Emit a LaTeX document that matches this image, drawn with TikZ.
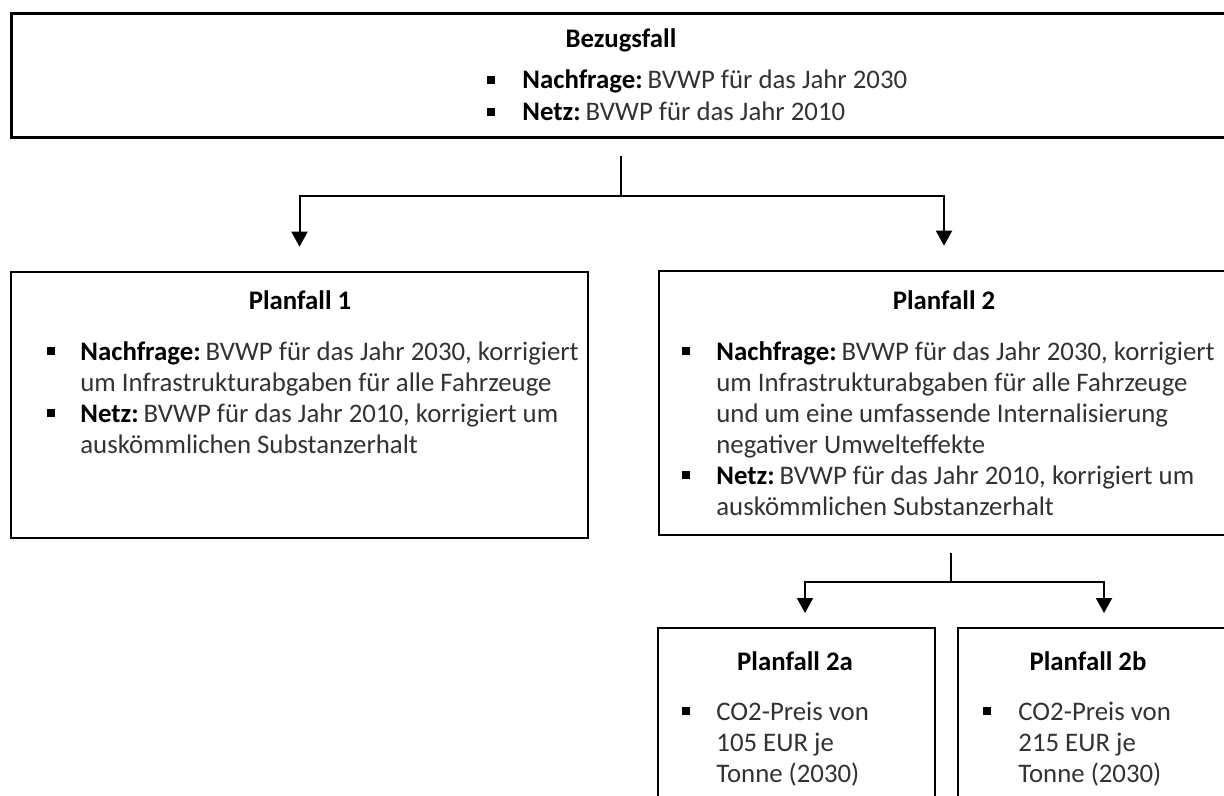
\documentclass[tikz,border=0pt]{standalone}
\usepackage{fontspec}
\setmainfont{Carlito}
\usepackage{xcolor}
\usetikzlibrary{positioning, fit, arrows.meta, calc}

\definecolor{txtgray}{RGB}{50,50,50}
\newcommand{\lead}[1]{\textbf{\color{black}#1}\kern2.5pt}

\begin{document}
\begin{tikzpicture}[
        x=0.5pt, y=-0.5pt,
        box/.style={draw, rectangle, line width=1.3pt, inner sep=0pt},
        ttl/.style={anchor=base, inner sep=0pt, font=\fontsize{13.4}{16}\selectfont\bfseries},
        txt/.style={anchor=base west, inner sep=0pt, font=\fontsize{13.4}{16}\selectfont, text=txtgray},
        blt/.style={fill=black, rectangle, minimum size=3.8pt, inner sep=0pt},
        conn/.style={line width=1pt},
        arrow/.style={-{Triangle[width=8pt, length=7.5pt]}, line width=1pt}
    ]
    \useasboundingbox (0,0) rectangle (1224,796);
    \clip (0,0) rectangle (1224,796);

    % Bezugsfall
    \node[box, line width=1.5pt, fit={(11,14) (1231,138)}] (bezug) {};
    \node[ttl] (bezug-t) at (621,48) {Bezugsfall};
    \node[blt] (bezug-b1) at (491,80) {};
    \node[txt] (bezug-l1) at (522,89) {\lead{Nachfrage:}BVWP für das Jahr 2030};
    \node[blt] (bezug-b2) at (491,112) {};
    \node[txt] (bezug-l2) at (522,121) {\lead{Netz:}BVWP für das Jahr 2010};

    % Planfall 1
    \node[box, fit={(11,272) (588,538)}] (pf1) {};
    \node[ttl] (pf1-t) at (300,310) {Planfall 1};
    \node[blt] (pf1-b1) at (51,351) {};
    \node[txt] (pf1-l1) at (80,360) {\lead{Nachfrage:}BVWP für das Jahr 2030, korrigiert};
    \node[txt] (pf1-l2) at (80,391) {um Infrastrukturabgaben für alle Fahrzeuge};
    \node[blt] (pf1-b2) at (51,413) {};
    \node[txt] (pf1-l3) at (80,422) {\lead{Netz:}BVWP für das Jahr 2010, korrigiert um};
    \node[txt] (pf1-l4) at (80,453) {auskömmlichen Substanzerhalt};

    % Planfall 2
    \node[box, fit={(659,271) (1229,535)}] (pf2) {};
    \node[ttl] (pf2-t) at (944,310) {Planfall 2};
    \node[blt] (pf2-b1) at (686,351) {};
    \node[txt] (pf2-l1) at (716,360) {\lead{Nachfrage:}BVWP für das Jahr 2030, korrigiert};
    \node[txt] (pf2-l2) at (716,391) {um Infrastrukturabgaben für alle Fahrzeuge};
    \node[txt] (pf2-l3) at (716,422) {und um eine umfassende Internalisierung};
    \node[txt] (pf2-l4) at (716,453) {negativer Umwelteffekte};
    \node[blt] (pf2-b2) at (686,475) {};
    \node[txt] (pf2-l5) at (716,484) {\lead{Netz:}BVWP für das Jahr 2010, korrigiert um};
    \node[txt] (pf2-l6) at (716,515) {auskömmlichen Substanzerhalt};

    % Planfall 2a / 2b
    \node[box, fit={(658,628) (935,810)}] (pf2a) {};
    \node[ttl] (pf2a-t) at (795,670) {Planfall 2a};
    \node[blt] (pf2a-b1) at (686,711) {};
    \node[txt] (pf2a-l1) at (716,720) {CO2-Preis von};
    \node[txt] (pf2a-l2) at (716,751) {105 EUR je};
    \node[txt] (pf2a-l3) at (716,782) {Tonne (2030)};

    \node[box, fit={(958,628) (1250,810)}] (pf2b) {};
    \node[ttl] (pf2b-t) at (1088,670) {Planfall 2b};
    \node[blt] (pf2b-b1) at (987,711) {};
    \node[txt] (pf2b-l1) at (1018,720) {CO2-Preis von};
    \node[txt] (pf2b-l2) at (1018,751) {215 EUR je};
    \node[txt] (pf2b-l3) at (1018,782) {Tonne (2030)};

    % Connectors
    \coordinate (bezug-out) at (621,156);
    \coordinate (bezug-join) at (621,196);
    \coordinate (pf1-in) at ($(pf1.north)+(0,-24)$);
    \coordinate (pf2-in) at ($(pf2.north)+(0,-24)$);
    \draw[conn] (bezug-out) -- (bezug-join);
    \draw[arrow] (bezug-join) -| (pf1-in);
    \draw[arrow] (bezug-join) -| (pf2-in);

    \coordinate (pf2-out) at (951,553);
    \coordinate (pf2-join) at (951,582);
    \coordinate (pf2a-in) at (805,613);
    \coordinate (pf2b-in) at (1104,613);
    \draw[conn] (pf2-out) -- (pf2-join);
    \draw[arrow] (pf2-join) -| (pf2a-in);
    \draw[arrow] (pf2-join) -| (pf2b-in);

\end{tikzpicture}
\end{document}
